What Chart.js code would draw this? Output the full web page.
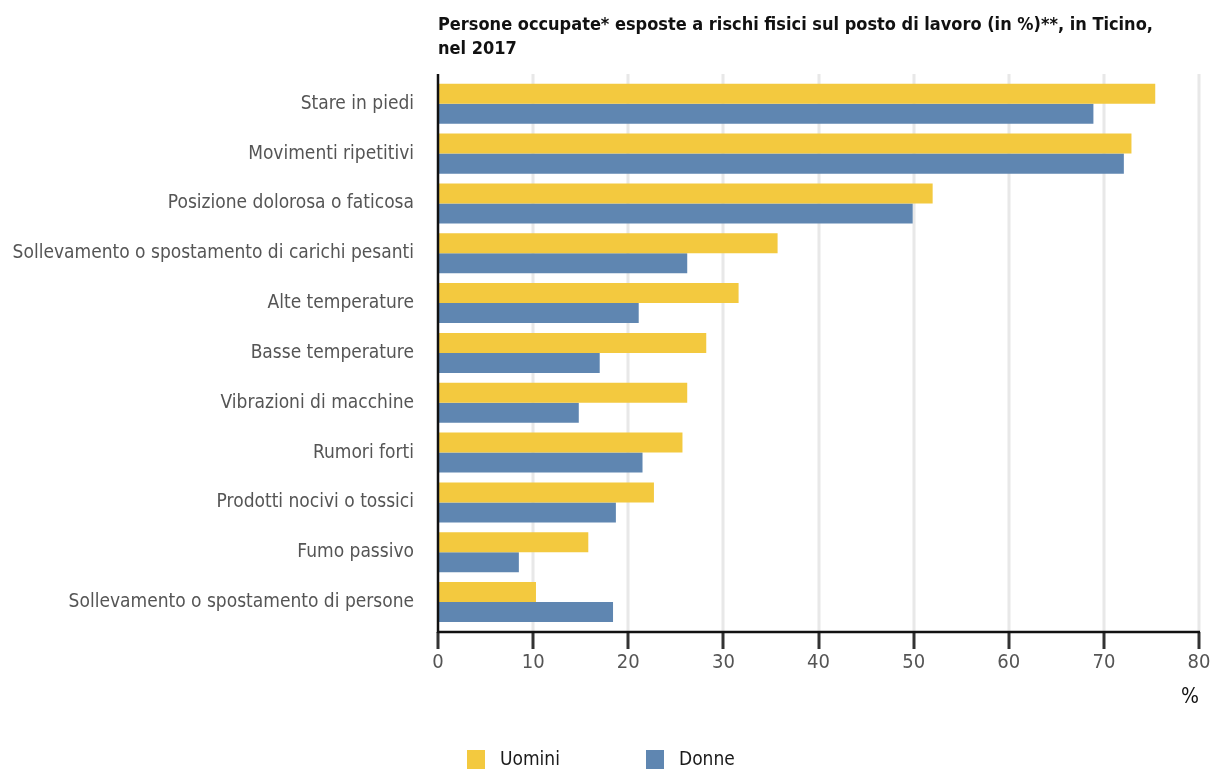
<!DOCTYPE html>
<html lang="it">
<head>
<meta charset="utf-8">
<title>Rischi fisici sul posto di lavoro, Ticino 2017</title>
<script src="https://cdn.jsdelivr.net/npm/chart.js@4.4.1/dist/chart.umd.min.js"></script>
<style>
  html, body { margin: 0; padding: 0; background: #fff; }
  #wrap { position: relative; width: 1214px; height: 772px; }
</style>
</head>
<body>
<div id="wrap"><canvas id="rischiChart"></canvas></div>
<script>
const categories = [
  "Stare in piedi",
  "Movimenti ripetitivi",
  "Posizione dolorosa o faticosa",
  "Sollevamento o spostamento di carichi pesanti",
  "Alte temperature",
  "Basse temperature",
  "Vibrazioni di macchine",
  "Rumori forti",
  "Prodotti nocivi o tossici",
  "Fumo passivo",
  "Sollevamento o spostamento di persone"
];
const uomini = [75.4, 72.9, 52.0, 35.7, 31.6, 28.2, 26.2, 25.7, 22.7, 15.8, 10.3];
const donne = [68.9, 72.1, 49.9, 26.2, 21.1, 17.0, 14.8, 21.5, 18.7, 8.5, 18.4];
const xMin = 0, xMax = 80, xStep = 10;

const FONT = "'Liberation Sans Narrow', 'DejaVu Sans Condensed', 'Noto Sans', sans-serif";
Chart.defaults.font.family = FONT;

// grid, axis lines, tick marks and legend drawn around the bars
const frame = {
  id: "frame",
  beforeDatasetsDraw(chart) {
    const { ctx, chartArea: a, scales: { x } } = chart;
    ctx.save();
    ctx.strokeStyle = "#e8e8e8";
    ctx.lineWidth = 3;
    x.ticks.forEach(t => {
      if (t.value === xMin) return;
      const px = Math.round(x.getPixelForValue(t.value));
      ctx.beginPath();
      ctx.moveTo(px, a.top - 5);
      ctx.lineTo(px, a.bottom + 5);
      ctx.stroke();
    });
    ctx.restore();
  },
  afterDatasetsDraw(chart) {
    const { ctx, chartArea: a, scales: { x } } = chart;
    const x0 = Math.round(x.getPixelForValue(xMin));
    ctx.save();
    // tick marks
    ctx.strokeStyle = "#333";
    ctx.lineWidth = 3;
    x.ticks.forEach(t => {
      const px = Math.round(x.getPixelForValue(t.value));
      ctx.beginPath();
      ctx.moveTo(px, a.bottom + 5);
      ctx.lineTo(px, a.bottom + 22);
      ctx.stroke();
    });
    // axis lines
    ctx.strokeStyle = "#111";
    ctx.lineWidth = 2.5;
    ctx.beginPath();
    ctx.moveTo(x0, a.top - 5);
    ctx.lineTo(x0, a.bottom + 6);
    ctx.moveTo(x0, a.bottom + 5);
    ctx.lineTo(Math.round(x.getPixelForValue(xMax)) + 1, a.bottom + 5);
    ctx.stroke();
    ctx.restore();
  },
  afterDraw(chart) {
    const { ctx } = chart;
    const items = [
      { left: 467, ds: chart.data.datasets[0] },
      { left: 646, ds: chart.data.datasets[1] }
    ];
    ctx.save();
    ctx.font = "19px " + FONT;
    ctx.textBaseline = "middle";
    ctx.textAlign = "left";
    items.forEach(it => {
      ctx.fillStyle = it.ds.backgroundColor;
      ctx.fillRect(it.left, 750, 18, 19);
      ctx.fillStyle = "#1a1a1a";
      ctx.fillText(it.ds.label, it.left + 33, 760);
    });
    ctx.restore();
  }
};

const ctxRischi = document.getElementById("rischiChart").getContext("2d");
const rischiChart = new Chart(ctxRischi, {
  type: "bar",
  data: {
    labels: categories,
    datasets: [
      {
        label: "Uomini",
        data: uomini,
        backgroundColor: "#f3c93f",
        categoryPercentage: 0.803,
        barPercentage: 1.0,
      },
      {
        label: "Donne",
        data: donne,
        backgroundColor: "#5f86b1",
        categoryPercentage: 0.803,
        barPercentage: 1.0,
      },
    ],
  },
  options: {
    indexAxis: "y",
    responsive: true,
    maintainAspectRatio: false,
    animation: false,
    layout: { padding: { top: 0, right: 15, bottom: 60, left: 0 } },
    plugins: {
      legend: { display: false },
      tooltip: { enabled: false },
      title: {
        display: true,
        fullSize: false,
        align: "start",
        text: [
          "Persone occupate* esposte a rischi fisici sul posto di lavoro (in %)**, in Ticino,",
          "nel 2017"
        ],
        color: "#111",
        font: { size: 18, weight: "bold", lineHeight: 1.33 },
        padding: { top: 13, bottom: 18 },
      },
    },
    scales: {
      x: {
        min: xMin,
        max: xMax,
        ticks: {
          stepSize: xStep,
          color: "#555",
          font: { size: 20 },
          padding: 24,
        },
        grid: { display: false, drawTicks: false },
        border: { display: false },
        title: {
          display: true,
          text: "%",
          align: "end",
          color: "#111",
          font: { size: 21 },
          padding: { top: 6, bottom: 2 },
        },
        afterFit(scale) {
          scale.height = 85;
          scale.paddingLeft = 0;
          scale.paddingRight = 0;
        },
      },
      y: {
        ticks: {
          color: "#555",
          font: { size: 19 },
          padding: 24,
        },
        grid: { display: false, drawTicks: false },
        border: { display: false },
        afterFit(scale) { scale.width = 438; },
      },
    },
  },
  plugins: [frame],
});
</script>
</body>
</html>
